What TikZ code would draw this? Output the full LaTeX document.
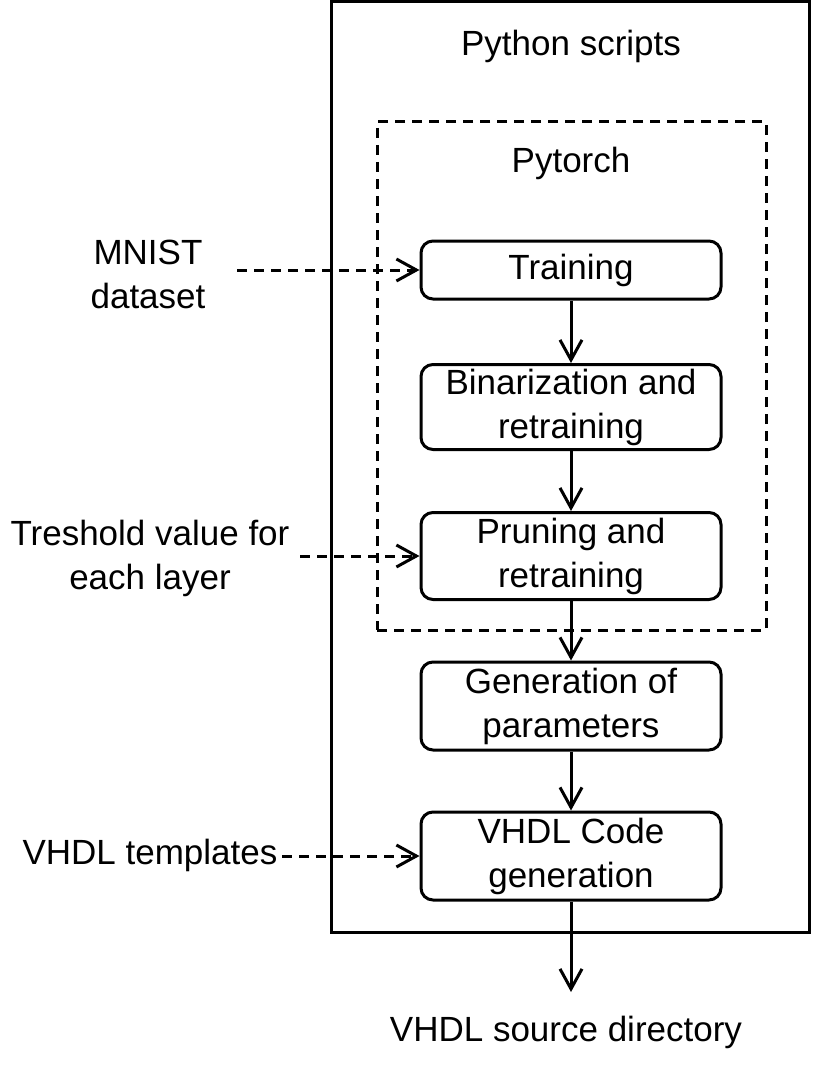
\documentclass[tikz,border=0pt]{standalone}
\usepackage{fontspec}
\setmainfont{Liberation Sans}
\usetikzlibrary{arrows.meta}

\begin{document}
\begin{tikzpicture}
  [x=1pt,y=-1pt,line width=3pt,
   every node/.style={font=\fontsize{35}{44}\selectfont,align=center},
   stage/.style={draw,rounded corners=12pt,minimum width=300pt,inner sep=0pt},
   arr/.style={-{Straight Barb[length=20pt,width=22pt]}},
   dsh/.style={dash pattern=on 10pt off 7pt}]

  \useasboundingbox (0,0) rectangle (816,1086);

  \node[draw,minimum width=478pt,minimum height=930pt,inner sep=0pt] (py) at (570,467) {};
  \node[draw,dsh,minimum width=389pt,minimum height=508pt,inner sep=0pt] (torch) at (571.5,376) {};

  \node (pylabel) at (571,46) {Python scripts};
  \node (torchlabel) at (571,163) {Pytorch};

  \node[stage,minimum height=58pt] (train) at (571,270) {Training};
  \node[stage,minimum height=85pt] (binar) at (571,407) {Binarization and\\retraining};
  \node[stage,minimum height=87pt] (prune) at (571,556) {Pruning and\\retraining};
  \node[stage,minimum height=88pt] (gener) at (571,706) {Generation of\\parameters};
  \node[stage,minimum height=88pt] (vhdl) at (571,856) {VHDL Code\\generation};

  \node (mnist) at (148,274) {MNIST\\dataset};
  \node (thresh) at (150,558) {Treshold value for\\each layer};
  \node (templ) at (150,855) {VHDL templates};
  \node (src) at (566,1032) {VHDL source directory};

  \coordinate (m0) at (237,270);
  \coordinate (t0) at (300,556);
  \coordinate (v0) at (282,856);
  \coordinate (out) at (571,992);

  \foreach \from/\to in {train/binar,binar/prune,prune/gener,gener/vhdl,vhdl/out}
    \draw[arr] (\from) -- (\to);
  \foreach \from/\to in {m0/train,t0/prune,v0/vhdl}
    \draw[arr,dsh] (\from) -- (\to);
\end{tikzpicture}
\end{document}
